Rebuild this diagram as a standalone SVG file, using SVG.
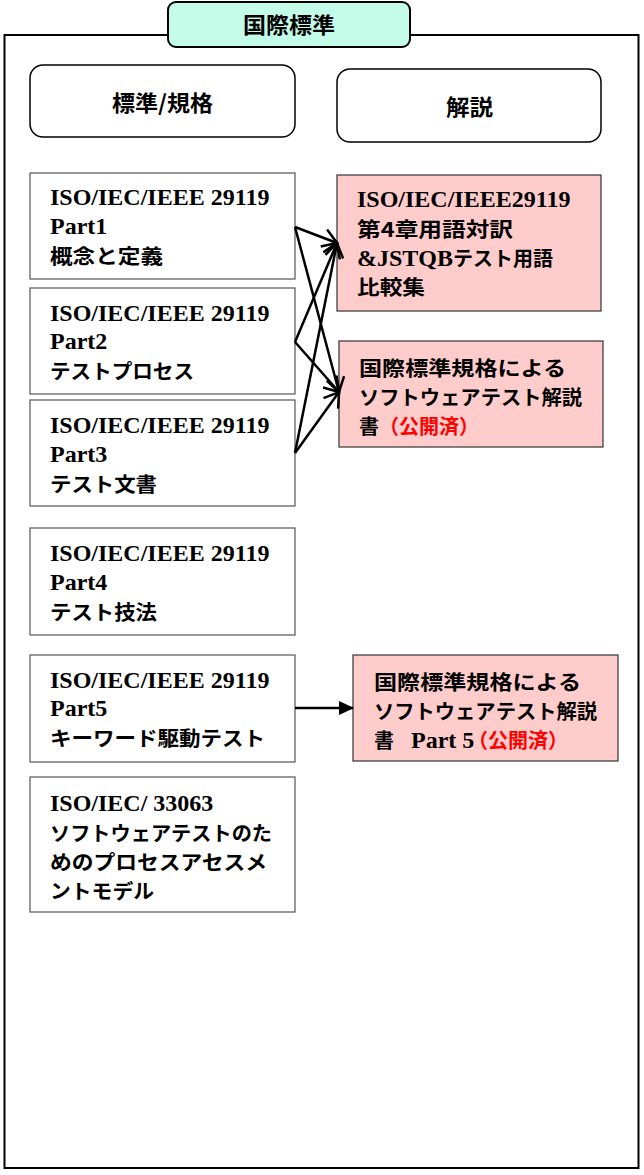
<svg xmlns="http://www.w3.org/2000/svg" width="644" height="1175" viewBox="0 0 644 1175">
<style>
.frame{fill:#fff;stroke:#000;stroke-width:2}
.hdr{fill:#fff;stroke:#000;stroke-width:1.5}
.std{fill:#fff;stroke:#555;stroke-width:1.2}
.pink{fill:#ffcccc;stroke:#333;stroke-width:1.2}
.en{font-family:"Liberation Serif","Times New Roman",serif;font-weight:bold;font-size:24px;fill:#000}
.jp{font-family:"Noto Sans CJK JP","Noto Sans CJK SC",sans-serif;font-weight:bold;font-size:20px;fill:#000}
.hj{font-family:"Noto Sans CJK JP","Noto Sans CJK SC",sans-serif;font-weight:bold;font-size:22px;fill:#000}
.red{fill:#ff0000}
.conn{stroke:#000;stroke-width:2.5;fill:none}
</style>
<defs>
<marker id="open" markerWidth="18" markerHeight="20" refX="15" refY="10" orient="auto" markerUnits="userSpaceOnUse">
<path d="M1,1 L15,10 L1,19" fill="none" stroke="#000" stroke-width="2.5"/>
</marker>
<marker id="tri" markerWidth="16" markerHeight="16" refX="14" refY="8" orient="auto" markerUnits="userSpaceOnUse">
<path d="M0,1 L15,8 L0,15 Z" fill="#000"/>
</marker>
</defs>
<rect class="frame" x="4.5" y="35" width="634" height="1133"/>
<g id="title">
<rect x="168" y="2" width="242" height="45" rx="8" fill="#c4fcea" stroke="#000" stroke-width="2"/>
<text class="hj" x="243" y="33" textLength="92" lengthAdjust="spacingAndGlyphs">国際標準</text>
</g>
<g id="hdr-std">
<rect class="hdr" x="30" y="65" width="265" height="72" rx="13"/>
<text class="hj" x="112" y="111" textLength="101" lengthAdjust="spacingAndGlyphs">標準/規格</text>
</g>
<g id="hdr-exp">
<rect class="hdr" x="337" y="69" width="264" height="73" rx="13"/>
<text class="hj" x="446" y="115" textLength="47" lengthAdjust="spacingAndGlyphs">解説</text>
</g>
<g id="part1">
<rect class="std" x="30" y="173" width="265" height="106"/>
<text class="en" x="50" y="205">ISO/IEC/IEEE 29119</text>
<text class="en" x="50" y="234">Part1</text>
<text class="jp" x="50" y="264" textLength="113" lengthAdjust="spacingAndGlyphs">概念と定義</text>
</g>
<g id="part2">
<rect class="std" x="30" y="288" width="265" height="106"/>
<text class="en" x="50" y="321">ISO/IEC/IEEE 29119</text>
<text class="en" x="50" y="349">Part2</text>
<text class="jp" x="50" y="379" textLength="144" lengthAdjust="spacingAndGlyphs">テストプロセス</text>
</g>
<g id="part3">
<rect class="std" x="30" y="400" width="265" height="106"/>
<text class="en" x="50" y="433">ISO/IEC/IEEE 29119</text>
<text class="en" x="50" y="462">Part3</text>
<text class="jp" x="50" y="492" textLength="107" lengthAdjust="spacingAndGlyphs">テスト文書</text>
</g>
<g id="part4">
<rect class="std" x="30" y="528" width="265" height="107"/>
<text class="en" x="50" y="561">ISO/IEC/IEEE 29119</text>
<text class="en" x="50" y="590">Part4</text>
<text class="jp" x="50" y="620" textLength="107" lengthAdjust="spacingAndGlyphs">テスト技法</text>
</g>
<g id="part5">
<rect class="std" x="30" y="655" width="265" height="107"/>
<text class="en" x="50" y="688">ISO/IEC/IEEE 29119</text>
<text class="en" x="50" y="716">Part5</text>
<text class="jp" x="50" y="746" textLength="215" lengthAdjust="spacingAndGlyphs">キーワード駆動テスト</text>
</g>
<g id="iso33063">
<rect class="std" x="30" y="777" width="265" height="135"/>
<text class="en" x="50" y="811">ISO/IEC/ 33063</text>
<text class="jp" x="50" y="841" textLength="222" lengthAdjust="spacingAndGlyphs">ソフトウェアテストのた</text>
<text class="jp" x="50" y="870" textLength="217" lengthAdjust="spacingAndGlyphs">めのプロセスアセスメ</text>
<text class="jp" x="50" y="899" textLength="104" lengthAdjust="spacingAndGlyphs">ントモデル</text>
</g>
<g id="glossary">
<rect class="pink" x="337" y="175" width="264" height="136"/>
<text class="en" x="357" y="207">ISO/IEC/IEEE29119</text>
<text class="jp" x="357" y="237" textLength="156" lengthAdjust="spacingAndGlyphs">第4章用語対訳</text>
<text x="357" y="266"><tspan class="en">&amp;JSTQB</tspan><tspan class="jp">テスト用語</tspan></text>
<text class="jp" x="357" y="295" textLength="68" lengthAdjust="spacingAndGlyphs">比較集</text>
</g>
<g id="guide">
<rect class="pink" x="339" y="341" width="264" height="106"/>
<text class="jp" x="359" y="376" textLength="207" lengthAdjust="spacingAndGlyphs">国際標準規格による</text>
<text class="jp" x="359" y="405" textLength="223" lengthAdjust="spacingAndGlyphs">ソフトウェアテスト解説</text>
<text class="jp" x="359" y="434">書<tspan class="red">（公開済）</tspan></text>
</g>
<g id="guide5">
<rect class="pink" x="353" y="655" width="265" height="106"/>
<text class="jp" x="374" y="690" textLength="207" lengthAdjust="spacingAndGlyphs">国際標準規格による</text>
<text class="jp" x="374" y="719" textLength="223" lengthAdjust="spacingAndGlyphs">ソフトウェアテスト解説</text>
<text x="374" y="748"><tspan class="jp">書</tspan><tspan class="en" x="411">Part 5</tspan><tspan class="jp red" x="468">（公開済）</tspan></text>
</g>
<g id="connectors">
<line class="conn" x1="295" y1="227" x2="337" y2="243" marker-end="url(#open)"/>
<line class="conn" x1="295" y1="227" x2="339" y2="392" marker-end="url(#open)"/>
<line class="conn" x1="295" y1="342" x2="337" y2="243" marker-end="url(#open)"/>
<line class="conn" x1="295" y1="342" x2="339" y2="392" marker-end="url(#open)"/>
<line class="conn" x1="295" y1="453" x2="337" y2="243" marker-end="url(#open)"/>
<line class="conn" x1="295" y1="453" x2="339" y2="392" marker-end="url(#open)"/>
<line class="conn" x1="295" y1="708" x2="353" y2="708" marker-end="url(#tri)"/>
</g>
</svg>
